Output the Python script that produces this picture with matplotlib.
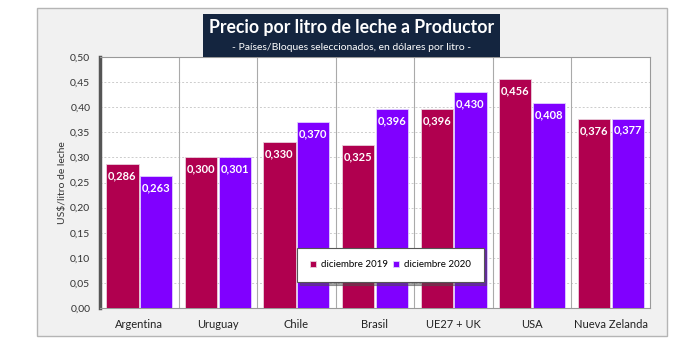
import numpy as np
import matplotlib.pyplot as plt
from matplotlib.patches import Rectangle

plt.rcParams['font.family'] = ['Lato', 'DejaVu Sans']

# datos
paises = ["Argentina", "Uruguay", "Chile", "Brasil", "UE27 + UK", "USA", "Nueva Zelanda"]
dic_2019 = [0.286, 0.300, 0.330, 0.325, 0.396, 0.456, 0.376]
dic_2020 = [0.263, 0.301, 0.370, 0.396, 0.430, 0.408, 0.377]
serie_labels = ["diciembre 2019", "diciembre 2020"]
yticks = np.arange(0, 0.501, 0.05)

col_2019 = "#b0004f"
col_2020 = "#8000ff"

fig = plt.figure(figsize=(6.92, 3.49), dpi=100)
fig.patch.set_facecolor("white")

# panel gris de fondo
panel = Rectangle((37 / 692, 13 / 349), 630 / 692, 328 / 349, transform=fig.transFigure,
                  facecolor="#f1f1f1", edgecolor="#b5b5b5", lw=1.0, zorder=-1)
fig.patches.append(panel)

ax = fig.add_axes([100 / 692, 41 / 349, 550 / 692, 251 / 349])
ax.set_zorder(1)
ax.set_facecolor("white")

x = np.arange(len(paises))
w = 0.41
b1 = ax.bar(x - w / 2 - 0.01, dic_2019, w, color=col_2019, edgecolor="#e8d0dc", lw=0.6,
            label=serie_labels[0], zorder=3)
b2 = ax.bar(x + w / 2 + 0.01, dic_2020, w, color=col_2020, edgecolor="#e0d0ff", lw=0.6,
            label=serie_labels[1], zorder=3)

for bars, vals in ((b1, dic_2019), (b2, dic_2020)):
    for r, v in zip(bars, vals):
        ax.text(r.get_x() + r.get_width() / 2, v - 0.012, f"{v:.3f}".replace(".", ","),
                ha="center", va="top", color="white", fontsize=8, fontweight="bold", zorder=4)

ax.set_xlim(-0.5, len(paises) - 0.5)
ax.set_ylim(0, 0.5)
ax.set_yticks(yticks)
ax.set_yticklabels([f"{t:.2f}".replace(".", ",") for t in yticks], fontsize=7.5, color="#333333")
ax.set_xticks(x)
ax.set_xticklabels(paises, fontsize=8, color="#222222")
ax.tick_params(length=0, pad=7)
ax.tick_params(axis="x", pad=8)

# rejilla
ax.yaxis.grid(True, ls=(0, (2, 2)), color="#cccccc", lw=0.7, zorder=0)
ax.set_axisbelow(True)
for i in range(len(paises) - 1):
    ax.axvline(i + 0.5, color="#aaaaaa", lw=0.8, zorder=1)

for s in ax.spines.values():
    s.set_color("#999999")
    s.set_linewidth(0.8)
ax.spines["left"].set_color("#555555")
ax.spines["left"].set_linewidth(2.5)

ax.set_ylabel("US$/litro de leche", fontsize=7.5, color="#333333", labelpad=2)

leg = ax.legend(loc="lower center", bbox_to_anchor=(0.528, 0.104), ncol=2, fontsize=7,
                frameon=True, fancybox=False, shadow=True, handlelength=0.6, handleheight=0.6,
                handletextpad=0.5, columnspacing=0.6, borderpad=1.3, borderaxespad=0,
                framealpha=1)
leg.get_frame().set_edgecolor("#555555")
leg.get_frame().set_linewidth(0.8)
leg.set_zorder(5)

# caja de título
tbox = Rectangle((203 / 692, 292 / 349), 297 / 692, 43 / 349, transform=fig.transFigure,
                 facecolor="#14253f", edgecolor="none", zorder=5)
fig.patches.append(tbox)
fig.text(352 / 692, 321 / 349, "Precio por litro de leche a Productor", ha="center", va="center",
         color="white", fontsize=12.7, fontweight="bold", zorder=6)
fig.text(352 / 692, 301 / 349, "- Países/Bloques seleccionados, en dólares por litro -",
         ha="center", va="center", color="white", fontsize=7.5, zorder=6)

fig.savefig("out.png", dpi=100)
